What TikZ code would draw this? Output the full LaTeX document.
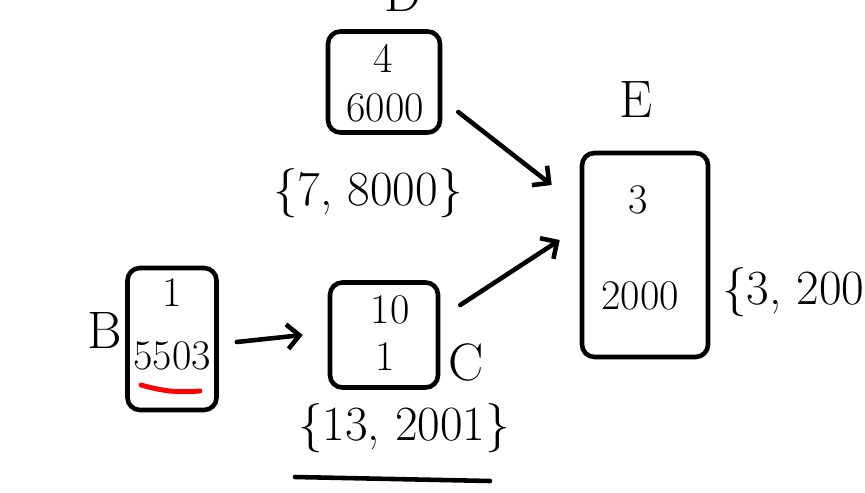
\documentclass[tikz,border=0pt]{standalone}
\usetikzlibrary{arrows.meta}
\newcommand\valstyle{\fontsize{24}{28}\selectfont}
\newcommand\sumstyle{\fontsize{28}{32}\selectfont}
\newcommand\labstyle{\fontsize{30}{34}\selectfont}

\begin{document}
\begin{tikzpicture}[x=0.02cm, y=-0.02cm,
    box/.style={draw, line width=2.6pt, rounded corners=7pt, inner sep=0pt},
    val/.style={inner sep=0pt, font=\valstyle},
    total/.style={inner sep=0pt, font=\sumstyle},
    lab/.style={inner sep=0pt, font=\labstyle},
    flow/.style={line width=2.6pt, line cap=round, -{Straight Barb[length=7pt, width=14pt, line width=2.6pt]}}]
    \clip (0, 0) rectangle (865, 493) ;
    % boxes
    \node[box, minimum width=2.24cm, minimum height=2.02cm] (boxD) at (384, 82) {} ;
    \node[box, minimum width=1.78cm, minimum height=2.84cm] (boxB) at (172, 339) {} ;
    \node[box, minimum width=2.16cm, minimum height=2.10cm] (boxC) at (384, 335) {} ;
    \node[box, minimum width=2.52cm, minimum height=4.08cm] (boxE) at (645, 255) {} ;
    % values
    \node[val] (dcost) at (383, 58) {4} ;
    \node[val] (dval) at (385, 108) {6000} ;
    \node[val] (bcost) at (172, 293) {1} ;
    \node[val] (bval) at (172, 356) {5503} ;
    \node[val] (ccost) at (390, 310) {10} ;
    \node[val] (cval) at (385, 357) {1} ;
    \node[val] (ecost) at (638, 200) {3} ;
    \node[val] (eval) at (640, 296) {2000} ;
    % names
    \node[lab] (nameD) at (403, -6) {D} ;
    \node[lab] (nameB) at (105, 330) {B} ;
    \node[lab] (nameC) at (466, 362) {C} ;
    \node[lab] (nameE) at (636, 100) {E} ;
    % totals
    \node[total] (sumD) at (368, 193) {\{7, 8000\}} ;
    \node[total] (sumC) at (404, 428) {\{13, 2001\}} ;
    \node[total, anchor=west] (sumE) at (722, 292) {\{3, 2000\}} ;
    \coordinate (ulineL) at (295, 477) ;
    \coordinate (ulineR) at (490, 481) ;
    \draw[line width=2.6pt, line cap=round] (ulineL) -- (ulineR) ;
    \coordinate (redL) at (141, 385) ;
    \coordinate (redR) at (200, 391) ;
    \draw[red, line width=2.8pt, line cap=round] (redL) to[bend right=10] (redR) ;
    % arrows
    \draw[flow] (boxB.east) ++(18, 3) -- ([xshift=-0.5cm]boxC.west) ;
    \draw[flow] ([shift={(16, 30)}]boxD.east) -- ([shift={(-28, -70)}]boxE.west) ;
    \draw[flow] ([shift={(20, -30)}]boxC.east) -- ([shift={(-20, -15)}]boxE.west) ;
\end{tikzpicture}
\end{document}
